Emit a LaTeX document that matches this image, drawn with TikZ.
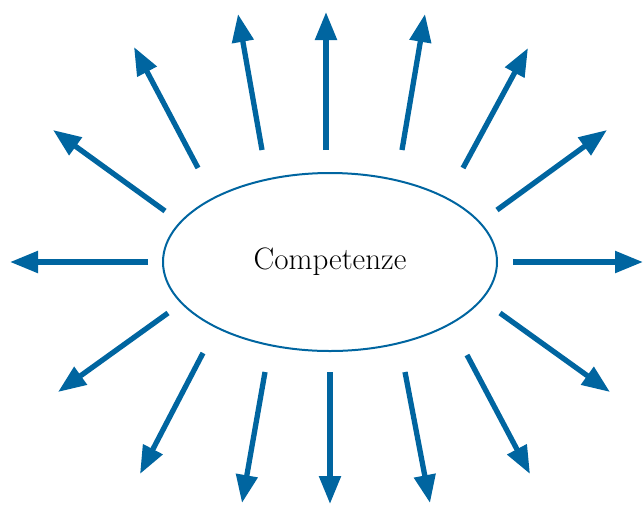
\documentclass[tikz,border=0pt]{standalone}
\usetikzlibrary{arrows.meta,shapes.geometric}
\definecolor{cblue}{RGB}{0,101,160}
\begin{document}
\begin{tikzpicture}[x=1pt,y=-1pt,
  ray/.style={draw=cblue,line width=5.3pt,-{Triangle[length=28pt,width=21pt]}},
  core/.style={ellipse,draw=cblue,line width=2pt,minimum width=334pt,minimum height=178pt,inner sep=0pt,font=\fontsize{31}{37}\selectfont}]
\useasboundingbox (0,0) rectangle (644,504);
\node[core] (e) at (330,262) {Competenze};
\foreach \i/\sx/\sy/\tx/\ty in {
  1/326/150/326/12,
  2/402/150/425/14,
  3/463/168/528/48,
  4/497/210/607/130,
  5/513/262/643/262,
  6/500/313/610/392,
  7/467/355/530/474,
  8/405/372/430/503,
  9/330/372/330/504,
  10/265/372/242/503,
  11/203/353/140/474,
  12/168/313/58/392,
  13/148/262/10/262,
  14/165/211/53/130,
  15/198/168/134/47,
  16/262/150/238/14}{
  \coordinate (s\i) at (\sx,\sy);
  \coordinate (t\i) at (\tx,\ty);
  \draw[ray] (s\i) -- (t\i);
}
\end{tikzpicture}
\end{document}
